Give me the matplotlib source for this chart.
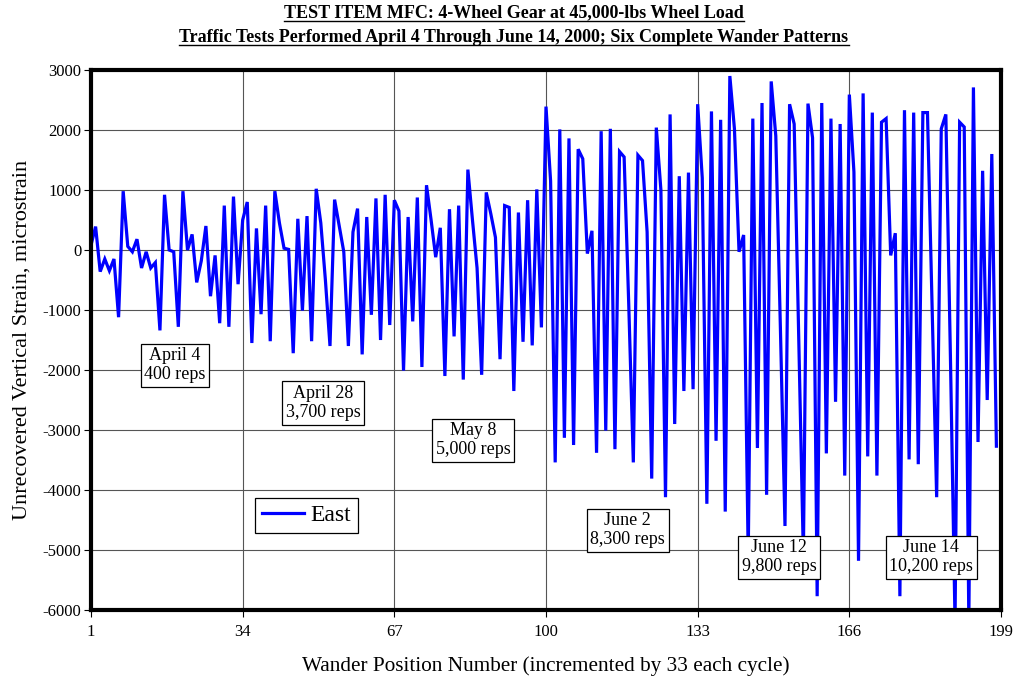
"""East strain gauge response vs wander position, MFC test item."""
import matplotlib
matplotlib.use("Agg")
import matplotlib.pyplot as plt
from matplotlib.lines import Line2D
import numpy as np

# wander positions 1..198 (one reading per position)
strain = [
    80, 390, -360, -150, -345, -150, -1120, 980, 60, -30,
    180, -300, -30, -300, -210, -1340, 920, 0, -30, -1280,
    980, 0, 260, -540, -180, 400, -770, -90, -1220, 740,
    -1280, 890, -570, 500, 800, -1550, 360, -1070, 740, -1520,
    980, 450, 30, 10, -1720, 520, -1010, 565, -1520, 1020,
    450, -500, -1600, 840, 400, -30, -1600, 300, 690, -1740,
    550, -1080, 860, -1500, 920, -1250, 830, 650, -2010, 550,
    -1190, 875, -1950, 1080, 500, -120, 370, -2100, 680, -1440,
    740, -2160, 1340, 500, -300, -2080, 960, 600, 210, -1820,
    740, 710, -2350, 625, -1530, 830, -1590, 1010, -1290, 2390,
    1150, -3540, 2010, -3130, 1860, -3250, 1680, 1520, -60, 320,
    -3380, 1980, -3010, 2020, -3320, 1640, 1550, -900, -3540, 1580,
    1490, 300, -3810, 2040, 1000, -4120, 2260, -2900, 1230, -2350,
    1290, -2320, 2430, 1200, -4230, 2310, -3180, 2170, -4360, 2900,
    2020, -30, 250, -5100, 2190, -3300, 2450, -4080, 2810, 1900,
    -1300, -4600, 2430, 2100, -1500, -5100, 2440, 1870, -5770, 2450,
    -3390, 2190, -2530, 2100, -3760, 2590, 1300, -5180, 2610, -3440,
    2290, -3760, 2130, 2190, -90, 280, -5770, 2330, -3490, 2290,
    -3570, 2290, 2290, -900, -4120, 2020, 2260, -1800, -6200, 2130,
    2050, -6200, 2710, -3200, 1320, -2500, 1600, -3270,
]
positions = np.arange(1, len(strain) + 1)

x_ticks = [1, 34, 67, 100, 133, 166, 199]
y_ticks = list(range(-6000, 3001, 1000))

# traffic date labels: (text, x, y) in data units
notes = [
    ("April 4\n400 reps", 19.3, -1920),
    ("April 28\n3,700 reps", 51.5, -2550),
    ("May 8\n5,000 reps", 84.1, -3170),
    ("June 2\n8,300 reps", 117.8, -4670),
    ("June 12\n9,800 reps", 150.7, -5120),
    ("June 14\n10,200 reps", 183.8, -5120),
]

titles = [
    "TEST ITEM MFC: 4-Wheel Gear at 45,000-lbs Wheel Load",
    "Traffic Tests Performed April 4 Through June 14, 2000; Six Complete Wander Patterns",
]

plt.rcParams["font.family"] = ["Liberation Serif", "DejaVu Serif"]
plt.rcParams["axes.unicode_minus"] = False  # plain hyphen like the original

fig = plt.figure(figsize=(10.16, 6.83), dpi=100)
ax = fig.add_axes([91 / 1016, 1 - 610 / 683, 910 / 1016, 540 / 683])

ax.plot(positions, strain, color="#0000ff", lw=2.3, label="East", zorder=3,
        solid_joinstyle="miter")

ax.set_xlim(1, 199)
ax.set_ylim(-6000, 3000)
ax.set_xticks(x_ticks)
ax.set_yticks(y_ticks)
ax.tick_params(axis="both", labelsize=12, direction="out", length=5, width=0.8)
ax.tick_params(axis="y", pad=2)
ax.tick_params(axis="x", pad=5)
ax.grid(True, color="#555555", lw=0.8, zorder=1)
for s in ax.spines.values():
    s.set_linewidth(3)
    s.set_zorder(5)

ax.set_xlabel("Wander Position Number (incremented by 33 each cycle)", fontsize=15.3, labelpad=12)
ax.set_ylabel("Unrecovered Vertical Strain, microstrain", fontsize=16, labelpad=8)

for txt, xx, yy in notes:
    ax.text(xx, yy, txt, ha="center", va="center", fontsize=13, zorder=4, linespacing=1.15,
            bbox=dict(boxstyle="square,pad=0.2", fc="white", ec="black", lw=0.9))

leg = ax.legend(loc="upper left", bbox_to_anchor=(0.18, 0.208), borderaxespad=0, fontsize=17,
                fancybox=False, framealpha=1, edgecolor="black", handlelength=1.8,
                handletextpad=0.25, borderpad=0.3)
leg.get_frame().set_linewidth(0.9)
leg.set_zorder(6)

# two underlined bold title lines
tobjs = []
for i, t in enumerate(titles):
    tobjs.append(fig.text(514 / 1016, 1 - (13 + 24 * i) / 683, t, ha="center", va="center",
                          fontsize=13, fontweight="bold"))
fig.canvas.draw()
for t in tobjs:
    bb = t.get_window_extent()
    y = bb.y0 + 1
    fig.add_artist(Line2D([bb.x0, bb.x1], [y, y], transform=None, color="black", lw=1.0))

fig.savefig("out.png", dpi=100)
plt.close(fig)
